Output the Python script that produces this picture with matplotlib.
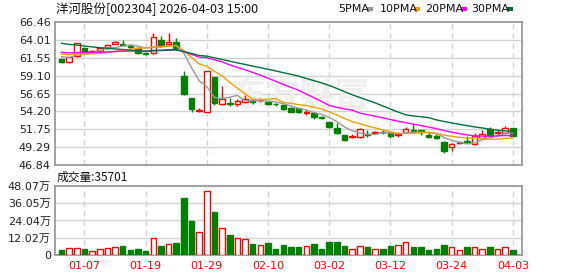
import numpy as np
import matplotlib
matplotlib.use("Agg")
import matplotlib.pyplot as plt
from matplotlib.patches import Rectangle

plt.rcParams['font.family'] = ['DejaVu Sans', 'Noto Sans CJK SC']

# ---------------- data ----------------
opens = [61.34, 60.93, 61.80, 62.85, 62.35, 62.48, 62.85, 63.45, 63.45, 63.25,
         62.93, 62.20, 62.16, 63.99, 63.45, 63.76, 59.05, 56.00, 54.20, 54.15,
         58.87, 55.17, 55.35, 55.17, 55.53, 55.70, 55.70, 55.53, 55.20, 55.07,
         54.70, 54.62, 53.95, 53.93, 53.38, 52.70, 51.87, 50.96, 50.75, 50.73,
         51.10, 51.25, 51.40, 51.18, 51.00, 51.41, 51.65, 51.60, 50.96, 50.87,
         49.99, 49.27, 49.85, 50.17, 49.72, 50.50, 51.74, 51.19, 51.27, 51.87]
highs = [61.45, 61.70, 63.60, 62.95, 62.55, 63.03, 63.50, 63.90, 64.00, 63.50,
         63.00, 62.40, 64.90, 64.54, 64.90, 64.22, 59.74, 56.00, 54.60, 59.80,
         58.90, 57.68, 56.10, 55.90, 56.45, 55.85, 56.00, 55.60, 55.40, 55.10,
         54.75, 54.70, 54.40, 54.00, 53.50, 52.80, 52.56, 51.00, 51.10, 51.90,
         51.60, 51.55, 51.60, 51.30, 51.30, 52.05, 52.42, 51.65, 51.30, 51.10,
         50.20, 49.80, 50.10, 50.86, 51.20, 51.64, 52.00, 51.60, 52.20, 51.90]
lows = [60.85, 60.85, 61.60, 62.30, 62.25, 62.40, 62.80, 63.40, 63.10, 62.85,
        62.10, 61.95, 62.10, 63.25, 63.40, 62.60, 56.50, 54.15, 54.10, 54.10,
        55.07, 55.10, 54.90, 54.90, 55.40, 55.25, 55.50, 55.10, 55.00, 54.40,
        54.10, 54.00, 53.70, 53.11, 53.10, 51.95, 51.10, 50.13, 50.50, 50.60,
        50.70, 51.15, 51.05, 50.60, 50.70, 51.35, 51.45, 51.00, 50.60, 50.40,
        48.55, 48.80, 49.70, 49.85, 49.60, 50.40, 50.80, 51.00, 51.20, 50.80]
closes = [60.93, 61.62, 63.54, 62.39, 62.45, 62.85, 63.35, 63.75, 63.35, 63.05,
          62.25, 62.10, 64.36, 63.30, 63.75, 62.85, 56.54, 54.48, 54.35, 59.78,
          55.39, 55.90, 55.25, 55.62, 55.90, 55.55, 55.80, 55.17, 55.15, 54.48,
          54.15, 54.10, 54.05, 53.39, 53.30, 52.00, 51.27, 50.30, 50.85, 51.74,
          51.00, 51.35, 51.30, 50.86, 51.10, 51.78, 51.55, 51.41, 50.73, 50.50,
          48.80, 49.72, 49.95, 49.90, 50.86, 51.09, 50.86, 51.41, 51.87, 50.86]
# volumes in 万 (10^4)
volumes = [3.7, 4.9, 4.9, 4.4, 2.8, 4.2, 4.9, 5.6, 6.5, 3.7,
           4.4, 3.0, 11.8, 6.5, 7.7, 8.4, 39.7, 23.9, 16.0, 44.4,
           30.2, 18.8, 13.9, 11.8, 11.1, 7.7, 7.0, 8.4, 4.2, 7.2,
           5.3, 5.6, 6.0, 7.9, 4.4, 9.3, 9.3, 6.5, 4.2, 6.0,
           5.3, 4.2, 4.4, 6.0, 7.2, 9.1, 5.3, 5.3, 3.7, 4.4,
           7.2, 5.3, 3.7, 5.3, 5.8, 4.4, 5.8, 4.4, 5.8, 3.5701]
# closes of the 29 sessions before the visible window (for moving averages)
prior_closes = [66.5, 66.0, 66.4, 65.9, 66.2, 65.9, 66.1, 65.9, 65.8, 65.53,
                63.2, 62.5, 62.3, 62.13, 62.2, 62.8, 62.5, 62.7, 62.47, 62.5,
                62.6, 62.3, 62.5, 62.4, 62.4, 62.2, 61.9, 61.8, 61.67]

tick_pos = [3, 11, 19, 27, 35, 43, 51, 59]
tick_labels = ['01-07', '01-19', '01-29', '02-10', '03-02', '03-12', '03-24', '04-03']
price_ticks = [46.84, 49.29, 51.75, 54.20, 56.65, 59.10, 61.55, 64.01, 66.46]
vol_ticks = [0, 12.02, 24.04, 36.05, 48.07]
vol_tick_labels = ['0', '12.02万', '24.04万', '36.05万', '48.07万']
ma_periods = [5, 10, 20, 30]
ma_names = ['5PMA', '10PMA', '20PMA', '30PMA']

# ---------------- styling ----------------
UP = '#ff0000'
DOWN = '#008000'
MA_COLORS = ['#999999', '#f0a000', '#ff00ff', '#006f3a']
GRID = '#d3d3d3'
SPINE = '#9a9a9a'
W, H = 578, 276

o = np.array(opens); h = np.array(highs); l = np.array(lows); c = np.array(closes)
v = np.array(volumes)
n = len(c)
x = np.arange(n)
up = c >= o

allc = np.array(prior_closes + closes)
off = len(prior_closes)

fig = plt.figure(figsize=(W / 100, H / 100), dpi=100)
fig.patch.set_facecolor('white')


def fx(px):
    return px / W


def fy(py):
    return 1 - py / H


axp = fig.add_axes([fx(55), fy(165), fx(522) - fx(55), fy(22) - fy(165)])
axv = fig.add_axes([fx(55), fy(255), fx(522) - fx(55), fy(186) - fy(255)])

xlim = (-0.85, 60.2)
for ax in (axp, axv):
    ax.set_xlim(*xlim)
    for s in ax.spines.values():
        s.set_color(SPINE)
        s.set_linewidth(1.3)
    ax.tick_params(length=0, labelsize=8, colors='#222222', pad=3)
    for tp in tick_pos:
        ax.axvline(tp, color=GRID, lw=1, ls=(0, (4, 3)), zorder=0)
    ax.set_facecolor('white')

# price panel
axp.set_ylim(price_ticks[0], price_ticks[-1])
axp.set_yticks(price_ticks)
axp.set_yticklabels([f'{t:.2f}' for t in price_ticks])
axp.set_xticks([])
for t in price_ticks[1:-1]:
    axp.axhline(t, color=GRID, lw=1, zorder=0)

axp.text(0.525, 0.49, '东方财富', transform=axp.transAxes, fontsize=25,
         family=['Noto Sans CJK SC'], color='#efefef', ha='center', va='center',
         fontweight='bold', zorder=0.5)

bw = 0.72
axp.vlines(x, l, h, colors=[UP if u else DOWN for u in up], lw=1, zorder=3)
body_bottom = np.minimum(o, c)
body_h = np.maximum(np.abs(c - o), 0.04)
axp.bar(x[up], body_h[up], bottom=body_bottom[up], width=bw, facecolor='white',
        edgecolor=UP, linewidth=1, zorder=4)
axp.bar(x[~up], body_h[~up], bottom=body_bottom[~up], width=bw, facecolor=DOWN,
        edgecolor=DOWN, linewidth=1, zorder=4)

for p, col in zip(ma_periods, MA_COLORS):
    ma = np.array([allc[off + i - p + 1: off + i + 1].mean() for i in range(n)])
    axp.plot(x, ma, color=col, lw=1, zorder=5)

# volume panel
axv.set_ylim(0, vol_ticks[-1])
axv.set_yticks(vol_ticks)
axv.set_yticklabels(vol_tick_labels, family=['DejaVu Sans', 'Noto Sans CJK SC'])
for t in vol_ticks[1:-1]:
    axv.axhline(t, color=GRID, lw=1, zorder=0)
axv.bar(x[up], v[up], width=bw, facecolor='white', edgecolor=UP, linewidth=1, zorder=3)
axv.bar(x[~up], v[~up], width=bw, facecolor=DOWN, edgecolor=DOWN, linewidth=1, zorder=3)
axv.set_xticks(tick_pos)
axv.set_xticklabels(tick_labels, color=UP, fontsize=8)
axv.tick_params(axis='x', pad=4)

# texts
fig.text(fx(56), fy(9), '洋河股份[002304] 2026-04-03 15:00', fontsize=9,
         family=['Noto Sans CJK SC', 'DejaVu Sans'], color='#111111', va='center', ha='left')
fig.text(fx(57), fy(177), f'成交量:{int(round(volumes[-1] * 10000))}', fontsize=8.5,
         family=['Noto Sans CJK SC', 'DejaVu Sans'], color='#111111', va='center', ha='left')

leg_x = [338, 380, 425, 471]
for name, lx in zip(ma_names, leg_x):
    fig.text(fx(lx), fy(9), name, fontsize=8, color='#111111', va='center', ha='left')
mk_x = [367, 414, 461, 507]
for col, mx in zip(MA_COLORS, mk_x):
    fig.patches.append(Rectangle((fx(mx), fy(11)), fx(6), 4 / H,
                                 transform=fig.transFigure,
                                 facecolor=col, edgecolor='none'))

fig.savefig('out.png', dpi=100, facecolor='white')
